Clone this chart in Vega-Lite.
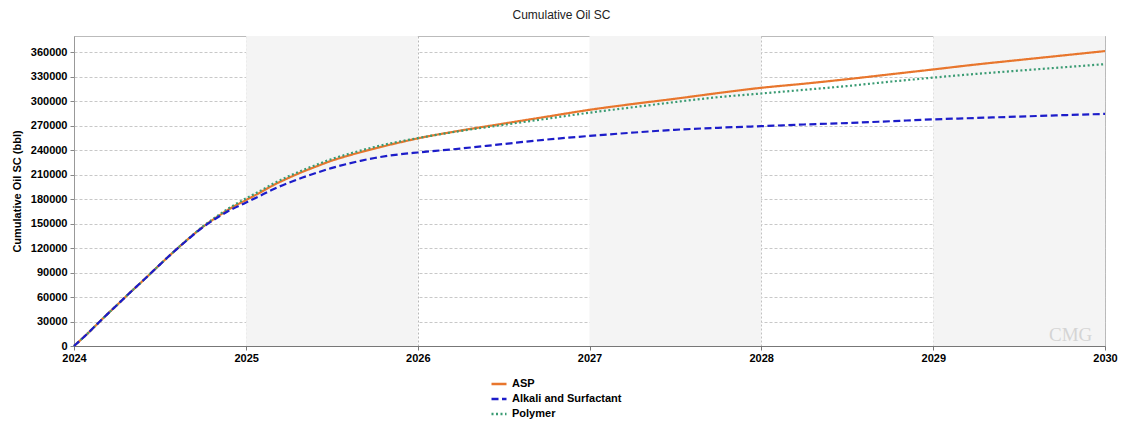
{
  "$schema": "https://vega.github.io/schema/vega-lite/v6.json",
  "width": 1031,
  "height": 310,
  "autosize": {"type": "none"},
  "padding": {"left": 74, "top": 36, "right": 17, "bottom": 75},
  "background": "white",
  "title": {"text": "Cumulative Oil SC", "fontSize": 12, "fontWeight": "normal", "font": "Liberation Sans", "color": "#222222", "offset": 14, "dx": -28},
  "config": {
    "view": {"stroke": "#bbbbbb", "strokeWidth": 1},
    "font": "Liberation Sans",
    "axis": {"labelFont": "Liberation Sans", "titleFont": "Liberation Sans", "labelOverlap": false}
  },
  "resolve": {"axis": {"x": "independent", "y": "independent"}},
  "layer": [
    {
      "data": {"values": [
        {"start": "2025/01/01", "end": "2026/01/01"},
        {"start": "2027/01/01", "end": "2028/01/01"},
        {"start": "2029/01/01", "end": "2030/01/01"}
      ]},
      "mark": {"type": "rect", "color": "#f4f4f4"},
      "encoding": {
        "x": {"field": "start", "type": "temporal", "axis": null},
        "x2": {"field": "end"}
      }
    },
    {
      "data": {"values": [
        {"date": "2024/01/01", "series": "ASP", "oil": 0},
        {"date": "2024/02/01", "series": "ASP", "oil": 16500},
        {"date": "2024/03/01", "series": "ASP", "oil": 33000},
        {"date": "2024/04/01", "series": "ASP", "oil": 50000},
        {"date": "2024/05/01", "series": "ASP", "oil": 66500},
        {"date": "2024/06/01", "series": "ASP", "oil": 83000},
        {"date": "2024/07/01", "series": "ASP", "oil": 99500},
        {"date": "2024/08/01", "series": "ASP", "oil": 116000},
        {"date": "2024/09/01", "series": "ASP", "oil": 131800},
        {"date": "2024/10/01", "series": "ASP", "oil": 146000},
        {"date": "2024/11/01", "series": "ASP", "oil": 158500},
        {"date": "2024/12/01", "series": "ASP", "oil": 169500},
        {"date": "2025/01/01", "series": "ASP", "oil": 179000},
        {"date": "2025/02/01", "series": "ASP", "oil": 188500},
        {"date": "2025/03/01", "series": "ASP", "oil": 197500},
        {"date": "2025/04/01", "series": "ASP", "oil": 206000},
        {"date": "2025/05/01", "series": "ASP", "oil": 213500},
        {"date": "2025/06/01", "series": "ASP", "oil": 220500},
        {"date": "2025/07/01", "series": "ASP", "oil": 227000},
        {"date": "2025/08/01", "series": "ASP", "oil": 232500},
        {"date": "2025/09/01", "series": "ASP", "oil": 237500},
        {"date": "2025/10/01", "series": "ASP", "oil": 242000},
        {"date": "2025/11/01", "series": "ASP", "oil": 246500},
        {"date": "2025/12/01", "series": "ASP", "oil": 250500},
        {"date": "2026/01/01", "series": "ASP", "oil": 254500},
        {"date": "2026/04/01", "series": "ASP", "oil": 264000},
        {"date": "2026/07/01", "series": "ASP", "oil": 272500},
        {"date": "2026/10/01", "series": "ASP", "oil": 281000},
        {"date": "2027/01/01", "series": "ASP", "oil": 289500},
        {"date": "2027/04/01", "series": "ASP", "oil": 296500},
        {"date": "2027/07/01", "series": "ASP", "oil": 303000},
        {"date": "2027/10/01", "series": "ASP", "oil": 310000},
        {"date": "2028/01/01", "series": "ASP", "oil": 316500},
        {"date": "2028/04/01", "series": "ASP", "oil": 321500},
        {"date": "2028/07/01", "series": "ASP", "oil": 327000},
        {"date": "2028/10/01", "series": "ASP", "oil": 333000},
        {"date": "2029/01/01", "series": "ASP", "oil": 339000},
        {"date": "2029/04/01", "series": "ASP", "oil": 345000},
        {"date": "2029/07/01", "series": "ASP", "oil": 350500},
        {"date": "2029/10/01", "series": "ASP", "oil": 356000},
        {"date": "2030/01/01", "series": "ASP", "oil": 361500},

        {"date": "2024/01/01", "series": "Polymer", "oil": 0},
        {"date": "2024/02/01", "series": "Polymer", "oil": 16500},
        {"date": "2024/03/01", "series": "Polymer", "oil": 33000},
        {"date": "2024/04/01", "series": "Polymer", "oil": 50000},
        {"date": "2024/05/01", "series": "Polymer", "oil": 66500},
        {"date": "2024/06/01", "series": "Polymer", "oil": 83000},
        {"date": "2024/07/01", "series": "Polymer", "oil": 99500},
        {"date": "2024/08/01", "series": "Polymer", "oil": 116000},
        {"date": "2024/09/01", "series": "Polymer", "oil": 132000},
        {"date": "2024/10/01", "series": "Polymer", "oil": 146500},
        {"date": "2024/11/01", "series": "Polymer", "oil": 159500},
        {"date": "2024/12/01", "series": "Polymer", "oil": 171000},
        {"date": "2025/01/01", "series": "Polymer", "oil": 181000},
        {"date": "2025/02/01", "series": "Polymer", "oil": 190500},
        {"date": "2025/03/01", "series": "Polymer", "oil": 199500},
        {"date": "2025/04/01", "series": "Polymer", "oil": 208000},
        {"date": "2025/05/01", "series": "Polymer", "oil": 215500},
        {"date": "2025/06/01", "series": "Polymer", "oil": 222500},
        {"date": "2025/07/01", "series": "Polymer", "oil": 229000},
        {"date": "2025/08/01", "series": "Polymer", "oil": 234500},
        {"date": "2025/09/01", "series": "Polymer", "oil": 239500},
        {"date": "2025/10/01", "series": "Polymer", "oil": 244000},
        {"date": "2025/11/01", "series": "Polymer", "oil": 248000},
        {"date": "2025/12/01", "series": "Polymer", "oil": 251500},
        {"date": "2026/01/01", "series": "Polymer", "oil": 254800},
        {"date": "2026/04/01", "series": "Polymer", "oil": 263500},
        {"date": "2026/07/01", "series": "Polymer", "oil": 271000},
        {"date": "2026/10/01", "series": "Polymer", "oil": 278500},
        {"date": "2027/01/01", "series": "Polymer", "oil": 286000},
        {"date": "2027/04/01", "series": "Polymer", "oil": 292500},
        {"date": "2027/07/01", "series": "Polymer", "oil": 299000},
        {"date": "2027/10/01", "series": "Polymer", "oil": 305000},
        {"date": "2028/01/01", "series": "Polymer", "oil": 309500},
        {"date": "2028/04/01", "series": "Polymer", "oil": 314000},
        {"date": "2028/07/01", "series": "Polymer", "oil": 318600},
        {"date": "2028/10/01", "series": "Polymer", "oil": 324000},
        {"date": "2029/01/01", "series": "Polymer", "oil": 329000},
        {"date": "2029/04/01", "series": "Polymer", "oil": 333500},
        {"date": "2029/07/01", "series": "Polymer", "oil": 337500},
        {"date": "2029/10/01", "series": "Polymer", "oil": 341500},
        {"date": "2030/01/01", "series": "Polymer", "oil": 345500},

        {"date": "2024/01/01", "series": "Alkali and Surfactant", "oil": 0},
        {"date": "2024/02/01", "series": "Alkali and Surfactant", "oil": 16500},
        {"date": "2024/03/01", "series": "Alkali and Surfactant", "oil": 33000},
        {"date": "2024/04/01", "series": "Alkali and Surfactant", "oil": 50000},
        {"date": "2024/05/01", "series": "Alkali and Surfactant", "oil": 66500},
        {"date": "2024/06/01", "series": "Alkali and Surfactant", "oil": 83000},
        {"date": "2024/07/01", "series": "Alkali and Surfactant", "oil": 99500},
        {"date": "2024/08/01", "series": "Alkali and Surfactant", "oil": 116000},
        {"date": "2024/09/01", "series": "Alkali and Surfactant", "oil": 131500},
        {"date": "2024/10/01", "series": "Alkali and Surfactant", "oil": 145500},
        {"date": "2024/11/01", "series": "Alkali and Surfactant", "oil": 157500},
        {"date": "2024/12/01", "series": "Alkali and Surfactant", "oil": 167500},
        {"date": "2025/01/01", "series": "Alkali and Surfactant", "oil": 176000},
        {"date": "2025/02/01", "series": "Alkali and Surfactant", "oil": 184500},
        {"date": "2025/03/01", "series": "Alkali and Surfactant", "oil": 192500},
        {"date": "2025/04/01", "series": "Alkali and Surfactant", "oil": 200000},
        {"date": "2025/05/01", "series": "Alkali and Surfactant", "oil": 206500},
        {"date": "2025/06/01", "series": "Alkali and Surfactant", "oil": 212500},
        {"date": "2025/07/01", "series": "Alkali and Surfactant", "oil": 218000},
        {"date": "2025/08/01", "series": "Alkali and Surfactant", "oil": 222800},
        {"date": "2025/09/01", "series": "Alkali and Surfactant", "oil": 227000},
        {"date": "2025/10/01", "series": "Alkali and Surfactant", "oil": 230500},
        {"date": "2025/11/01", "series": "Alkali and Surfactant", "oil": 233300},
        {"date": "2025/12/01", "series": "Alkali and Surfactant", "oil": 235500},
        {"date": "2026/01/01", "series": "Alkali and Surfactant", "oil": 237200},
        {"date": "2026/04/01", "series": "Alkali and Surfactant", "oil": 242000},
        {"date": "2026/07/01", "series": "Alkali and Surfactant", "oil": 247500},
        {"date": "2026/10/01", "series": "Alkali and Surfactant", "oil": 253000},
        {"date": "2027/01/01", "series": "Alkali and Surfactant", "oil": 257500},
        {"date": "2027/04/01", "series": "Alkali and Surfactant", "oil": 261500},
        {"date": "2027/07/01", "series": "Alkali and Surfactant", "oil": 265000},
        {"date": "2027/10/01", "series": "Alkali and Surfactant", "oil": 267500},
        {"date": "2028/01/01", "series": "Alkali and Surfactant", "oil": 269500},
        {"date": "2028/04/01", "series": "Alkali and Surfactant", "oil": 271500},
        {"date": "2028/07/01", "series": "Alkali and Surfactant", "oil": 273300},
        {"date": "2028/10/01", "series": "Alkali and Surfactant", "oil": 275500},
        {"date": "2029/01/01", "series": "Alkali and Surfactant", "oil": 277800},
        {"date": "2029/04/01", "series": "Alkali and Surfactant", "oil": 279500},
        {"date": "2029/07/01", "series": "Alkali and Surfactant", "oil": 281200},
        {"date": "2029/10/01", "series": "Alkali and Surfactant", "oil": 282900},
        {"date": "2030/01/01", "series": "Alkali and Surfactant", "oil": 284500}
      ]},
      "mark": {"type": "line", "strokeWidth": 2.2, "interpolate": "monotone"},
      "encoding": {
        "x": {
          "field": "date", "type": "temporal",
          "scale": {"domain": ["2024/01/01", "2030/01/01"], "nice": false},
          "axis": {
            "title": null, "format": "%Y",
            "tickCount": {"interval": "year", "step": 1},
            "labelFontWeight": "bold", "labelFontSize": 11, "labelColor": "#000000",
            "labelFlush": false, "labelOverlap": false, "labelPadding": 2,
            "tickSize": 4, "tickColor": "#777777", "domainColor": "#777777",
            "grid": true, "gridColor": "#b8b8b8", "gridDash": [2, 2]
          }
        },
        "y": {
          "field": "oil", "type": "quantitative",
          "scale": {"domain": [0, 380000], "nice": false},
          "axis": {
            "title": "Cumulative Oil SC (bbl)",
            "titleFontSize": 11, "titleFontWeight": "bold", "titleColor": "#000000", "titlePadding": 8,
            "values": [0, 30000, 60000, 90000, 120000, 150000, 180000, 210000, 240000, 270000, 300000, 330000, 360000],
            "format": "d", "labelOverlap": false,
            "labelFontWeight": "bold", "labelFontSize": 11, "labelColor": "#000000", "labelPadding": 3,
            "tickSize": 4, "tickColor": "#888888", "domainColor": "#999999",
            "grid": true, "gridColor": "#c8c8c8", "gridDash": [3, 2]
          }
        },
        "color": {
          "field": "series", "type": "nominal",
          "scale": {"domain": ["ASP", "Alkali and Surfactant", "Polymer"], "range": ["#E8762D", "#1C1CC9", "#3A9B73"]},
          "legend": {
            "title": null, "orient": "none", "legendX": 416, "legendY": 339,
            "direction": "vertical", "symbolType": "stroke", "symbolSize": 225, "symbolStrokeWidth": 2.5,
            "labelFontWeight": "bold", "labelFontSize": 11, "labelColor": "#000000", "labelFont": "Liberation Sans",
            "rowPadding": 1, "padding": 0, "labelOffset": 4
          }
        },
        "strokeDash": {
          "field": "series", "type": "nominal",
          "scale": {"domain": ["ASP", "Alkali and Surfactant", "Polymer"], "range": [[1, 0], [7, 3.5], [2, 2.5]]},
          "legend": null
        },
        "order": {"field": "series"}
      }
    },
    {
      "data": {"values": [{"mark": "CMG"}]},
      "mark": {"type": "text", "fontSize": 19, "font": "Liberation Serif", "color": "#d4d4d4", "align": "center", "baseline": "middle"},
      "encoding": {
        "text": {"field": "mark"},
        "x": {"datum": {"year": 2029, "month": 10, "date": 20}, "type": "temporal", "axis": null},
        "y": {"datum": 13000, "type": "quantitative", "axis": null}
      }
    }
  ]
}
